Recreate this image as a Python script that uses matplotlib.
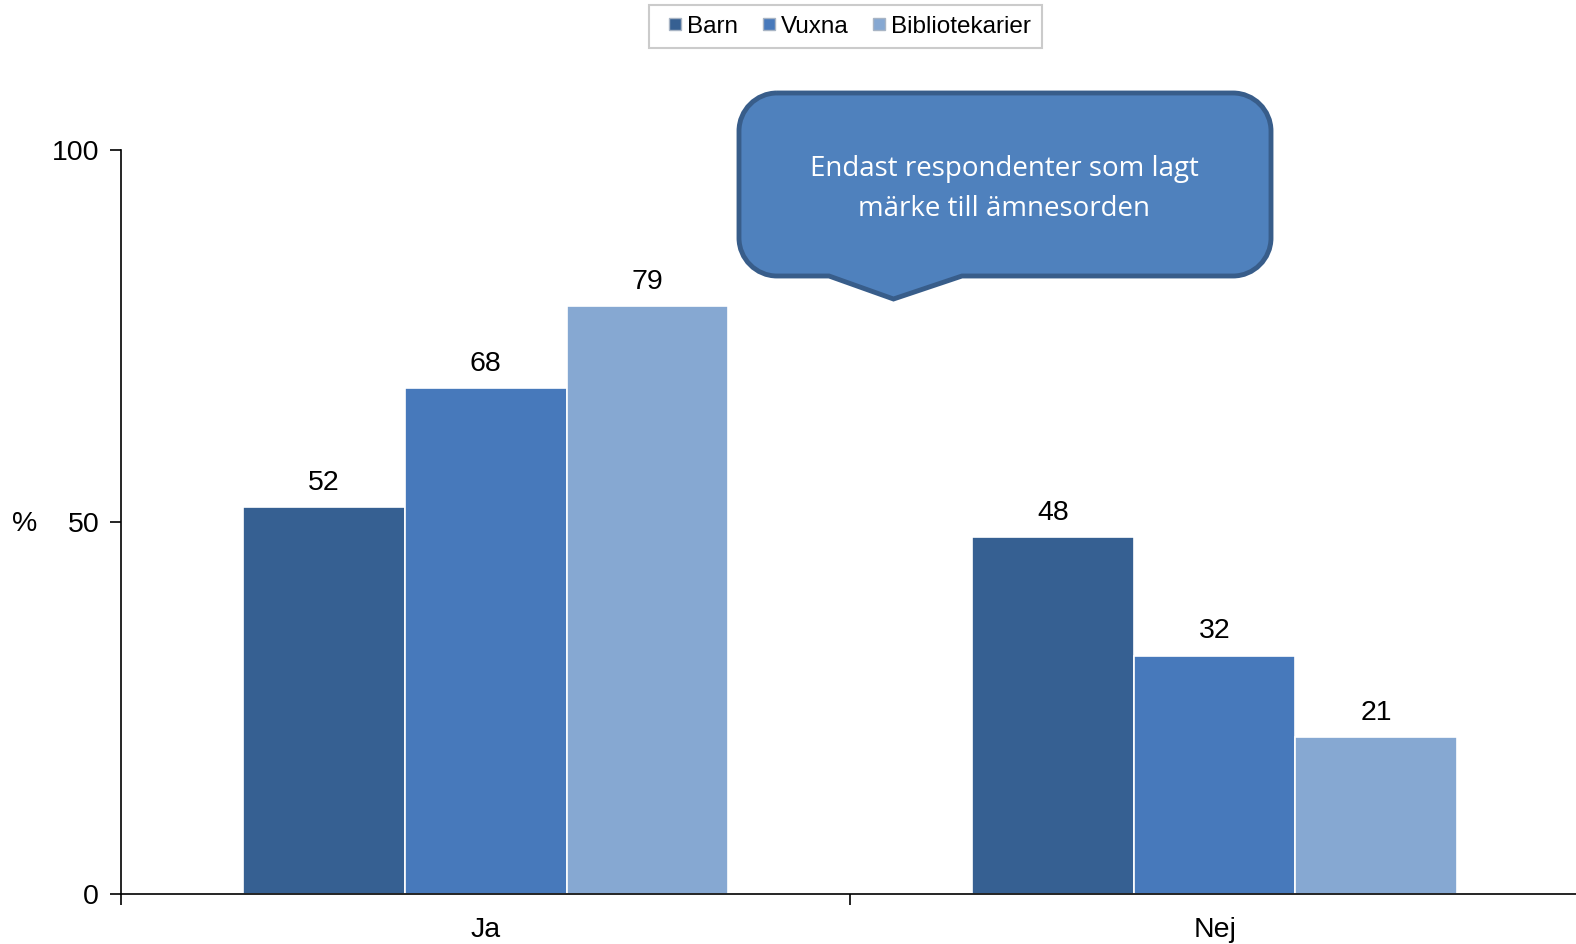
import numpy as np
import matplotlib.pyplot as plt
from matplotlib.path import Path
from matplotlib.patches import PathPatch
from matplotlib.lines import Line2D

plt.rcParams['font.family'] = ['Liberation Sans', 'DejaVu Sans']

categories = ['Ja', 'Nej']
series = ['Barn', 'Vuxna', 'Bibliotekarier']
barn = [52, 48]
vuxna = [68, 32]
bibl = [79, 21]
colors = ['#366092', '#4779BB', '#86A8D2']
note = 'Endast respondenter som lagt\nmärke till ämnesorden'

W, H = 1576, 944
fig = plt.figure(figsize=(W / 100, H / 100), dpi=100)
ax = fig.add_axes([121.4 / W, 1 - 893.5 / H, (1579 - 121.4) / W, (893.5 - 150) / H])

x = np.arange(len(categories)) + 0.5
bw = 0.222
for i, (vals, c) in enumerate(zip([barn, vuxna, bibl], colors)):
    pos = x + (i - 1) * bw
    ax.bar(pos, vals, bw, color=c, edgecolor='white', linewidth=1.2, zorder=2)
    for p, v in zip(pos, vals):
        ax.annotate(str(v), (p, v), xytext=(0, 8), textcoords='offset points',
                    ha='center', va='bottom', fontsize=20.5)

ax.set_xlim(0, 2)
ax.set_ylim(0, 100)
ax.set_yticks([0, 50, 100])
ax.tick_params(axis='y', labelsize=20.5, length=8, width=1.2, direction='out', pad=8)
ax.set_xticks([0, 1, 2])
ax.set_xticklabels([])
ax.set_xticks(x, minor=True)
ax.set_xticklabels(categories, minor=True, fontsize=20.5)
ax.tick_params(axis='x', which='major', length=8, width=1.2, direction='out')
ax.tick_params(axis='x', which='minor', length=0, pad=17)
for s in ['top', 'right']:
    ax.spines[s].set_visible(False)
ax.spines['left'].set_linewidth(1.2)
ax.spines['bottom'].set_linewidth(1.2)
fig.text(25 / W, 1 - 524 / H, '%', fontsize=20.5, ha='center', va='center')

handles = [Line2D([], [], marker='s', linestyle='none', markersize=9,
                  markerfacecolor=c, markeredgecolor='#a8b4c4', markeredgewidth=1.0)
           for c in colors]
leg = fig.legend(handles, series, loc='center', bbox_to_anchor=(845.5 / W, 1 - 26.5 / H),
                 ncol=3, fontsize=17.5, frameon=True, fancybox=False,
                 handlelength=1.25, handletextpad=-0.125, columnspacing=0.62,
                 borderpad=0.45)
leg.get_frame().set_edgecolor('#bfbfbf')
leg.get_frame().set_linewidth(1.5)

# callout shape in pixel coords
x0, x1, y0, y1, r = 739, 1271, 93, 276, 38
k = 0.55 * r
px, tip = (829, 962), (893.5, 299)
pts = [(x0 + r, y0), (x1 - r, y0),
       (x1 - r + k, y0), (x1, y0 + r - k), (x1, y0 + r),
       (x1, y1 - r),
       (x1, y1 - r + k), (x1 - r + k, y1), (x1 - r, y1),
       (px[1], y1), tip, (px[0], y1), (x0 + r, y1),
       (x0 + r - k, y1), (x0, y1 - r + k), (x0, y1 - r),
       (x0, y0 + r),
       (x0, y0 + r - k), (x0 + r - k, y0), (x0 + r, y0)]
codes = [Path.MOVETO, Path.LINETO,
         Path.CURVE4, Path.CURVE4, Path.CURVE4,
         Path.LINETO,
         Path.CURVE4, Path.CURVE4, Path.CURVE4,
         Path.LINETO, Path.LINETO, Path.LINETO, Path.LINETO,
         Path.CURVE4, Path.CURVE4, Path.CURVE4,
         Path.LINETO,
         Path.CURVE4, Path.CURVE4, Path.CURVE4]
pts = [(a / W, 1 - b / H) for a, b in pts]
fig.patches.append(PathPatch(Path(pts, codes), facecolor='#4F81BD', edgecolor='#385D8A',
                             linewidth=3.5, transform=fig.transFigure, zorder=5))
fig.text(1004 / W, 1 - 189 / H, note, color='white', fontsize=20, family='Open Sans',
         ha='center', va='center', linespacing=1.55, zorder=6)

fig.savefig('out.png', dpi=100)
